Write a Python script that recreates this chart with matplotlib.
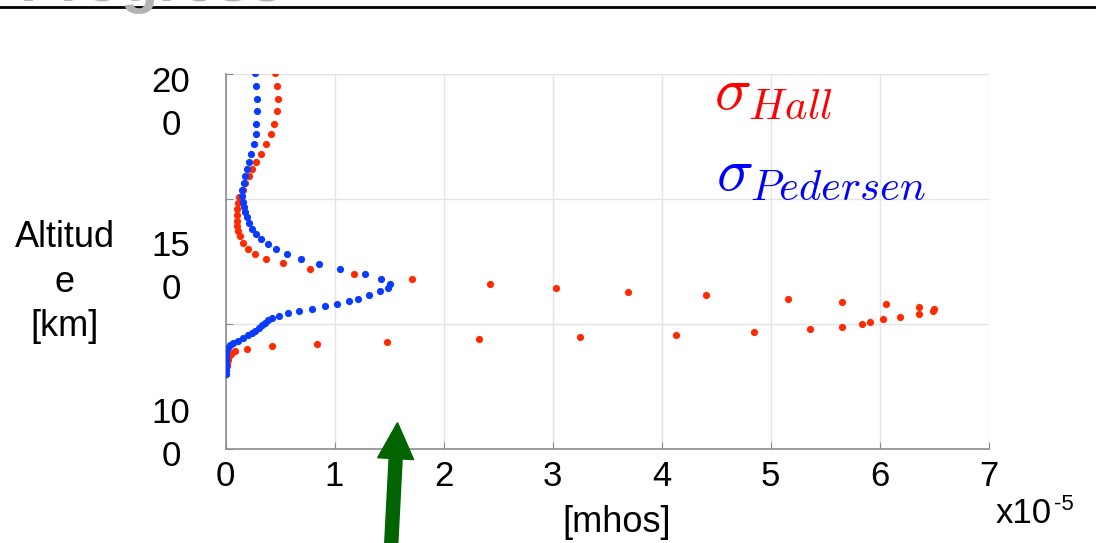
import matplotlib
matplotlib.use("Agg")
import matplotlib.pyplot as plt
from matplotlib.patches import FancyArrow
from matplotlib.transforms import IdentityTransform

plt.rcParams['font.family'] = ['Liberation Sans', 'DejaVu Sans']
plt.rcParams['mathtext.fontset'] = 'cm'

# conductivity profiles, x in units of 1e-5 mhos, altitude in km
ped_x = [0.274, 0.280, 0.286, 0.286, 0.283, 0.277, 0.258, 0.237, 0.219, 0.197,
         0.182, 0.167, 0.154, 0.151, 0.157, 0.167, 0.179, 0.194, 0.213, 0.240,
         0.280, 0.323, 0.387, 0.463, 0.567, 0.696, 0.855, 1.050, 1.277, 1.430,
         1.509, 1.494, 1.420, 1.320, 1.219, 1.130, 1.020, 0.910, 0.790, 0.674,
         0.576, 0.491, 0.427, 0.393, 0.365, 0.335, 0.304, 0.271, 0.240, 0.203,
         0.157, 0.115, 0.072, 0.041, 0.020, 0.008, 0.002, 0.0, 0.0, 0.0,
         0.0, 0.0, 0.0]
ped_alt = [200.4, 195.2, 190.2, 185.3, 180.2, 176.1, 172.1, 168.1, 165.0, 162.2,
           159.3, 156.4, 153.7, 151.3, 149.0, 147.0, 145.0, 143.0, 140.4, 138.2,
           136.1, 134.0, 132.2, 130.1, 128.2, 126.1, 124.2, 122.1, 120.2, 118.1,
           116.2, 114.6, 113.2, 111.6, 110.1, 109.2, 108.1, 107.1, 106.1, 105.2,
           104.3, 103.1, 102.3, 101.5, 100.5, 99.5, 98.4, 97.3, 96.4, 95.5,
           94.5, 93.3, 92.4, 91.5, 90.4, 89.3, 88.1, 86.8, 85.5, 84.1,
           82.8, 81.5, 80.1]

hall_x = [0.457, 0.469, 0.479, 0.472, 0.445, 0.414, 0.372, 0.323, 0.280, 0.246,
          0.213, 0.182, 0.157, 0.127, 0.115, 0.106, 0.102, 0.102, 0.106, 0.118,
          0.133, 0.157, 0.203, 0.274, 0.372, 0.528, 0.775, 1.182, 1.713, 2.427,
          3.035, 3.689, 4.406, 5.164, 5.654, 6.056, 6.360, 6.500, 6.493, 6.364,
          6.185, 6.028, 5.909, 5.836, 5.654, 5.360, 4.850, 4.136, 3.255, 2.322,
          1.483, 0.836, 0.427, 0.197, 0.090, 0.050, 0.035, 0.026, 0.017, 0.011,
          0.008, 0.005]
hall_alt = [200.4, 195.2, 190.2, 185.3, 180.2, 176.1, 172.1, 168.1, 165.0, 162.2,
            159.3, 156.4, 153.7, 151.0, 148.4, 146.0, 143.7, 141.4, 139.4, 137.4,
            135.4, 132.4, 130.1, 128.2, 126.0, 124.3, 122.1, 120.1, 118.0, 116.1,
            114.6, 113.0, 111.6, 110.0, 109.0, 108.1, 107.0, 106.1, 105.3, 104.1,
            102.8, 102.0, 101.0, 100.0, 98.9, 98.0, 97.0, 95.8, 94.9, 94.0,
            93.0, 92.0, 91.1, 90.1, 89.1, 88.1, 87.1, 85.7, 84.4, 83.1,
            81.7, 80.1]

xticks = [0, 1, 2, 3, 4, 5, 6, 7]
yticks = [50, 100, 150, 200]
ytick_text = ["20\n0", "15\n0", "10\n0"]
ytick_text_y = [104, 268, 435]   # pixel rows on the slide

W, H = 1096, 543


def px(x, y):
    return x / W, 1 - y / H


fig = plt.figure(figsize=(W / 100, H / 100), dpi=100)
ax = fig.add_axes([225.5 / W, 1 - 449.3 / H, 763 / W, 375.3 / H])

ax.plot(hall_x, hall_alt, 'o', color='#ff2a00', ms=5.2, mew=0, zorder=3)
ax.plot(ped_x, ped_alt, 'o', color='#0a3cff', ms=5.2, mew=0, zorder=4)

ax.set_xlim(0, 7)
ax.set_ylim(50, 200)
ax.set_xticks(xticks)
ax.set_yticks(yticks)
ax.set_yticklabels([])
ax.grid(True, color='#e4e4e4', lw=1)
ax.set_axisbelow(True)
for s in ['top', 'right']:
    ax.spines[s].set_visible(False)
for s in ['left', 'bottom']:
    ax.spines[s].set_color('#8c8c8c')
    ax.spines[s].set_linewidth(1.2)
ax.tick_params(direction='in', length=5, color='#8c8c8c', labelsize=25, pad=8)

for t, yy in zip(ytick_text, ytick_text_y):
    fig.text(*px(171, yy), t, ha='center', va='center', fontsize=25,
             multialignment='center', linespacing=1.4)

fig.text(*px(65, 282), "Altitud\ne\n[km]", ha='center', va='center', fontsize=26,
         multialignment='center', linespacing=1.35)
fig.text(*px(617, 532), "[mhos]", ha='center', va='baseline', fontsize=26)
fig.text(*px(996, 523), "x10", ha='left', va='baseline', fontsize=25)
fig.text(*px(1054, 510), "-5", ha='left', va='baseline', fontsize=16)

fig.text(*px(714, 109), r"$\sigma_{Hall}$", color='#ff0000', fontsize=44, va='baseline')
fig.text(*px(716, 190), r"$\sigma_{Pedersen}$", color='#0000ff', fontsize=44, va='baseline')

# slide header remnants
fig.text(*px(20, 1), "Progress", color='#b4b4b4', fontsize=44, weight='bold', va='baseline')
fig.add_artist(plt.Line2D([0, 1], [1 - 7.3 / H] * 2, color='black', lw=2))

arrow = FancyArrow(391, -5, 6.5, 543 - 422.7 + 5, width=13, head_width=36,
                   head_length=36, length_includes_head=True, color='#006400',
                   transform=IdentityTransform())
fig.add_artist(arrow)

fig.savefig("out.png", dpi=100)
